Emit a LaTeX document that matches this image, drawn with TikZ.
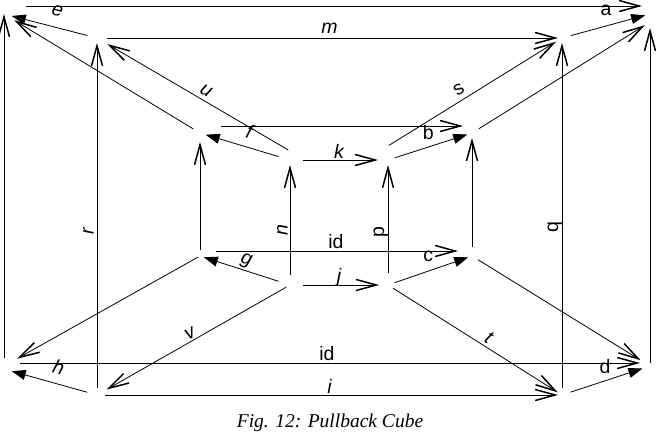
\documentclass[tikz,border=0pt]{standalone}
\usepackage{fontspec}
\setmainfont{Liberation Sans}
\newfontfamily\capfont{Liberation Serif}
\usetikzlibrary{arrows.meta}
\newcommand{\lblsize}{\fontsize{19.5}{22}\selectfont}

\begin{document}
\begin{tikzpicture}[x=1pt,y=-1pt,
  every node/.style={font=\lblsize,inner sep=1.5pt},
  ar/.style={-{Straight Barb[length=20pt,width=11pt,line width=1.5pt]},line width=0.8pt},
  fa/.style={-{Triangle[length=14pt,width=10pt]},line width=0.8pt},
  il/.style={sloped,above=#1,font=\lblsize\itshape},
  ul/.style={sloped,above=#1},
  al/.style={above=#1}
]
  \useasboundingbox (0,0) rectangle (656,432);
  % corners, outer to inner
  \coordinate (otl) at (4,14);    \coordinate (otr) at (650,22);
  \coordinate (obl) at (4,366);   \coordinate (obr) at (650,366);
  \coordinate (atl) at (97,38);   \coordinate (atr) at (562,38);
  \coordinate (abl) at (97,395);  \coordinate (abr) at (562,395);
  \coordinate (btl) at (200,133); \coordinate (btr) at (472,133);
  \coordinate (bbl) at (200,256); \coordinate (bbr) at (472,256);
  \coordinate (ctl) at (290,160); \coordinate (ctr) at (388,160);
  \coordinate (cbl) at (290,285); \coordinate (cbr) at (388,285);

  % outer square
  \draw[ar,shorten <=22pt,shorten >=8pt] ([yshift=8pt]otl) -- ([yshift=16pt]otr);
  \draw[ar,shorten <=8pt] (obl) -- (otl);
  \draw[ar,shorten <=3pt,shorten >=6pt] (obr) -- (otr);
  \draw[ar,shorten <=16pt,shorten >=10pt] ([yshift=3pt]obl) -- node[al=0pt]{id} ([yshift=3pt]obr);

  % second square
  \draw[ar,shorten <=10pt,shorten >=4pt] (atl) -- node[il=2.5pt]{m} (atr);
  \draw[ar,shorten <=8pt,shorten >=4pt] (abl) -- node[il=0pt]{i} (abr);
  \draw[ar,shorten <=7pt,shorten >=5pt] (abl) -- node[pos=.46,il=1.5pt]{r} (atl);
  \draw[ar,shorten <=7pt,shorten >=5pt] (abr) -- node[pos=.47,ul=-2pt]{q} (atr);

  % third square
  \draw[ar,shorten <=21pt,shorten >=9pt] ([yshift=7pt]btl) -- ([yshift=7pt]btr);
  \draw[ar,shorten <=16pt,shorten >=14pt] ([yshift=5pt]bbl) -- node[ul=0pt]{id} ([yshift=5pt]bbr);
  \draw[ar,shorten <=6pt,shorten >=9pt] (bbl) -- (btl);
  \draw[ar,shorten <=9pt,shorten >=5pt] (bbr) -- (btr);

  % inner square
  \draw[ar,shorten <=13pt,shorten >=10pt] (ctl) -- node[il=0pt]{k} (ctr);
  \draw[ar,shorten <=13pt,shorten >=9pt] (cbl) -- node[il=-3.5pt]{j} (cbr);
  \draw[ar,shorten <=10pt,shorten >=5pt] (cbl) -- node[pos=.44,il=0.5pt]{n} (ctl);
  \draw[ar,shorten <=12pt,shorten >=5pt] (cbr) -- node[pos=.42,ul=-2pt]{p} (ctr);

  % diagonals
  \foreach \x/\y/\s/\t in {btl/otl/8/12,btr/otr/8/6,bbl/obl/2/15,bbr/obr/7/11}
    {\draw[ar,shorten <=\s pt,shorten >=\t pt] (\x) -- (\y);}
  \draw[ar,shorten <=2pt,shorten >=12pt] ([yshift=9pt]ctl) -- node[pos=.46,il=2.5pt]{u} (atl);
  \draw[ar,shorten <=1pt,shorten >=7pt] ([yshift=14pt]ctr) -- node[pos=.44,ul=3.5pt]{s} (atr);
  \draw[ar,shorten <=4pt,shorten >=11pt] (cbl) -- node[il=0pt]{v} (abl);
  \draw[ar,shorten <=6pt,shorten >=5pt] (cbr) -- node[pos=.55,il=1.5pt]{t} (abr);

  % filled arrows
  \draw[fa,shorten <=10pt,shorten >=8pt] (atl) -- node[pos=.47,il=9pt]{e} (otl);
  \draw[fa,shorten <=9pt,shorten >=5pt] (atr) -- node[al=8.5pt]{a} ([yshift=8pt]otr);
  \draw[fa,shorten <=12pt,shorten >=6pt] (ctl) -- node[il=7pt]{f} (btl);
  \draw[fa,shorten <=7pt,shorten >=5pt] (ctr) -- node[pos=.48,al=5.5pt]{b} (btr);
  \draw[fa,shorten <=12pt,shorten >=4pt] (cbl) -- node[pos=.52,il=0pt]{g} (bbl);
  \draw[fa,shorten <=7pt,shorten >=4pt] (cbr) -- node[pos=.48,al=7.5pt]{c} (bbr);
  \draw[fa,shorten <=10pt,shorten >=8pt] (abl) -- node[pos=.46,il=8pt]{h} ([yshift=-3pt]obl);
  \draw[fa,shorten <=9pt,shorten >=8pt] (abr) -- node[pos=.49,al=5pt]{d} (obr);

  \node[font=\capfont\itshape\fontsize{19.5}{22}\selectfont] (caption) at (330,423) {Fig. 12: Pullback Cube};
\end{tikzpicture}
\end{document}
